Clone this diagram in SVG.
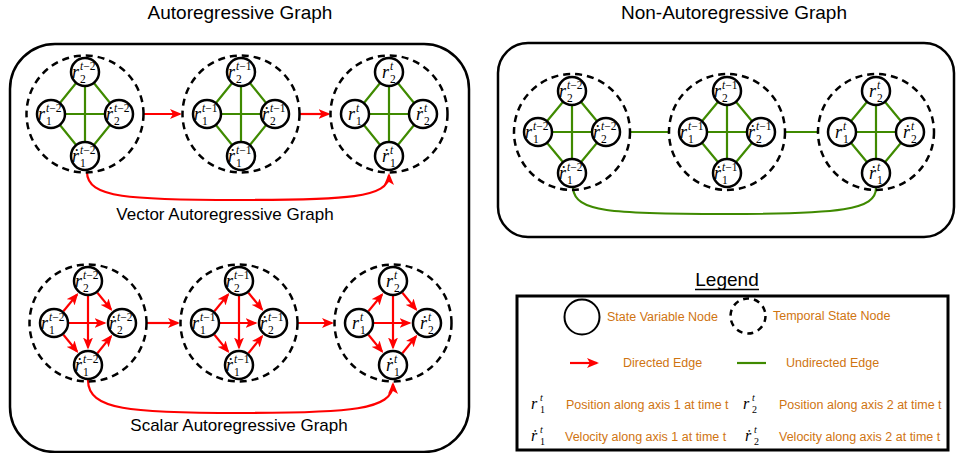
<svg xmlns="http://www.w3.org/2000/svg" width="956" height="453" viewBox="0 0 956 453">
<style>
.box{fill:none;stroke:#000;stroke-width:2.5}
.node{fill:#fff;stroke:#000;stroke-width:2.5}
.temp{fill:none;stroke:#000;stroke-width:2.5;stroke-dasharray:7 5}
.ge{stroke:#3f8a00;stroke-width:2.2;fill:none}
.re{stroke:#f00;stroke-width:2.2;fill:none;marker-end:url(#ah)}
.m{font-family:"Liberation Serif","DejaVu Serif",serif;font-style:italic;font-size:18px;fill:#000}
.sp{font-size:11.5px}
.up{font-style:normal}
.lm{font-size:16px}
.ls{font-size:10px}
.title{font-family:"Liberation Sans",Arial,sans-serif;font-size:19px;fill:#000}
.cap{font-family:"Liberation Sans",Arial,sans-serif;font-size:17px;fill:#000}
.lg{font-family:"Liberation Sans",Arial,sans-serif;font-size:12.5px;fill:#cf7411}
</style>
<defs>
<marker id="ah" viewBox="0 0 12 10" refX="10" refY="5" markerWidth="12" markerHeight="10" markerUnits="userSpaceOnUse" orient="auto"><path d="M0,0 L12,5 L0,10 L3,5 z" fill="#f00"/></marker>
</defs>
<rect width="956" height="453" fill="#fff"/>

<text class="title" x="240" y="19" text-anchor="middle">Autoregressive Graph</text>
<text class="title" x="734" y="19" text-anchor="middle">Non-Autoregressive Graph</text>
<rect class="box" x="10" y="44" width="459" height="408" rx="45"/>
<rect class="box" x="498" y="43" width="456" height="194" rx="30"/>
<text class="cap" x="225" y="220" text-anchor="middle">Vector Autoregressive Graph</text>
<text class="cap" x="239" y="431" text-anchor="middle">Scalar Autoregressive Graph</text>

<g id="connectors">
<g class="ge">
<path d="M85,72 L51,114 L85,156 L119,114 Z M85,72 V156 M51,114 H119"/>
<path d="M241,72 L207,114 L241,156 L275,114 Z M241,72 V156 M207,114 H275"/>
<path d="M389,72 L355,114 L389,156 L423,114 Z M389,72 V156 M355,114 H423"/>
</g>
<line class="re" x1="144" y1="114" x2="180" y2="114"/>
<line class="re" x1="300" y1="114" x2="328.5" y2="114"/>
<path class="re" d="M87,172 C87,198 130,200 238,200 C346,200 389,198 389,175"/>
<line class="re" x1="63.4" y1="311.3" x2="77" y2="294.6"/>
<line class="re" x1="69" y1="323" x2="104.5" y2="323"/>
<line class="re" x1="63.4" y1="334.7" x2="77" y2="351.4"/>
<line class="re" x1="97.4" y1="292.7" x2="111" y2="309.4"/>
<line class="re" x1="88" y1="296" x2="88" y2="347.5"/>
<line class="re" x1="97.4" y1="353.3" x2="111" y2="336.4"/>
<line class="re" x1="214.4" y1="311.3" x2="228" y2="294.6"/>
<line class="re" x1="220" y1="323" x2="255.5" y2="323"/>
<line class="re" x1="214.4" y1="334.7" x2="228" y2="351.4"/>
<line class="re" x1="248.4" y1="292.7" x2="262" y2="309.4"/>
<line class="re" x1="239" y1="296" x2="239" y2="347.5"/>
<line class="re" x1="248.4" y1="353.3" x2="262" y2="336.4"/>
<line class="re" x1="368.4" y1="311.3" x2="382" y2="294.6"/>
<line class="re" x1="374" y1="323" x2="409.5" y2="323"/>
<line class="re" x1="368.4" y1="334.7" x2="382" y2="351.4"/>
<line class="re" x1="402.4" y1="292.7" x2="416" y2="309.4"/>
<line class="re" x1="393" y1="296" x2="393" y2="347.5"/>
<line class="re" x1="402.4" y1="353.3" x2="416" y2="336.4"/>
<line class="re" x1="147" y1="323" x2="178" y2="323"/>
<line class="re" x1="298" y1="323" x2="332" y2="323"/>
<path class="re" d="M88,380 C88,410 130,413 240,413 C350,413 393,410 393,384"/>
<g class="ge">
<path d="M572,91 L538,132 L572,173 L606,132 Z M572,91 V173 M538,132 H606"/>
<path d="M727,91 L693,132 L727,173 L761,132 Z M727,91 V173 M693,132 H761"/>
<path d="M876,91 L842,132 L876,173 L910,132 Z M876,91 V173 M842,132 H910"/>
<path d="M630.5,132 H668.5 M785.5,132 H817.5"/>
<path d="M573,188 C575,212 610,214 725,214 C840,214 876,210 876,188"/>
</g>
</g>

<g id="v1"><circle class="temp" cx="85" cy="114" r="58.5"/></g>
<g id="v2"><circle class="temp" cx="241" cy="114" r="58.5"/></g>
<g id="v3"><circle class="temp" cx="389" cy="114" r="58.5"/></g>
<g id="s1"><circle class="temp" cx="88" cy="323" r="58.5"/></g>
<g id="s2"><circle class="temp" cx="239" cy="323" r="58.5"/></g>
<g id="s3"><circle class="temp" cx="393" cy="323" r="58.5"/></g>
<g id="n1"><circle class="temp" cx="572" cy="132" r="58"/></g>
<g id="n2"><circle class="temp" cx="727" cy="132" r="58"/></g>
<g id="n3"><circle class="temp" cx="876" cy="132" r="58"/></g>

<g id="v1-r2"><circle class="node" cx="85" cy="72" r="14"/><text class="m" x="72" y="78">r<tspan class="sp" x="80" y="70">t<tspan class="up">−2</tspan></tspan><tspan class="sp up" x="80" y="82.5">2</tspan></text></g>
<g id="v1-r1"><circle class="node" cx="51" cy="114" r="14"/><text class="m" x="38" y="120">r<tspan class="sp" x="46" y="112">t<tspan class="up">−2</tspan></tspan><tspan class="sp up" x="46" y="124.5">1</tspan></text></g>
<g id="v1-v2"><circle class="node" cx="119" cy="114" r="14"/><text class="m" x="106" y="120">ṙ<tspan class="sp" x="114" y="112">t<tspan class="up">−2</tspan></tspan><tspan class="sp up" x="114" y="124.5">2</tspan></text></g>
<g id="v1-v1"><circle class="node" cx="85" cy="156" r="14"/><text class="m" x="72" y="162">ṙ<tspan class="sp" x="80" y="154">t<tspan class="up">−2</tspan></tspan><tspan class="sp up" x="80" y="166.5">1</tspan></text></g>
<g id="v2-r2"><circle class="node" cx="241" cy="72" r="14"/><text class="m" x="228" y="78">r<tspan class="sp" x="236" y="70">t<tspan class="up">−1</tspan></tspan><tspan class="sp up" x="236" y="82.5">2</tspan></text></g>
<g id="v2-r1"><circle class="node" cx="207" cy="114" r="14"/><text class="m" x="194" y="120">r<tspan class="sp" x="202" y="112">t<tspan class="up">−1</tspan></tspan><tspan class="sp up" x="202" y="124.5">1</tspan></text></g>
<g id="v2-v2"><circle class="node" cx="275" cy="114" r="14"/><text class="m" x="262" y="120">ṙ<tspan class="sp" x="270" y="112">t<tspan class="up">−1</tspan></tspan><tspan class="sp up" x="270" y="124.5">2</tspan></text></g>
<g id="v2-v1"><circle class="node" cx="241" cy="156" r="14"/><text class="m" x="228" y="162">ṙ<tspan class="sp" x="236" y="154">t<tspan class="up">−1</tspan></tspan><tspan class="sp up" x="236" y="166.5">1</tspan></text></g>
<g id="v3-r2"><circle class="node" cx="389" cy="72" r="14"/><text class="m" x="382" y="78">r<tspan class="sp" x="390" y="70">t</tspan><tspan class="sp up" x="390" y="82.5">2</tspan></text></g>
<g id="v3-r1"><circle class="node" cx="355" cy="114" r="14"/><text class="m" x="348" y="120">r<tspan class="sp" x="356" y="112">t</tspan><tspan class="sp up" x="356" y="124.5">1</tspan></text></g>
<g id="v3-v2"><circle class="node" cx="423" cy="114" r="14"/><text class="m" x="416" y="120">ṙ<tspan class="sp" x="424" y="112">t</tspan><tspan class="sp up" x="424" y="124.5">2</tspan></text></g>
<g id="v3-v1"><circle class="node" cx="389" cy="156" r="14"/><text class="m" x="382" y="162">ṙ<tspan class="sp" x="390" y="154">t</tspan><tspan class="sp up" x="390" y="166.5">1</tspan></text></g>

<g id="s1-r2"><circle class="node" cx="88" cy="281" r="14"/><text class="m" x="75" y="287">r<tspan class="sp" x="83" y="279">t<tspan class="up">−2</tspan></tspan><tspan class="sp up" x="83" y="291.5">2</tspan></text></g>
<g id="s1-r1"><circle class="node" cx="54" cy="323" r="14"/><text class="m" x="41" y="329">r<tspan class="sp" x="49" y="321">t<tspan class="up">−2</tspan></tspan><tspan class="sp up" x="49" y="333.5">1</tspan></text></g>
<g id="s1-v2"><circle class="node" cx="122" cy="323" r="14"/><text class="m" x="109" y="329">ṙ<tspan class="sp" x="117" y="321">t<tspan class="up">−2</tspan></tspan><tspan class="sp up" x="117" y="333.5">2</tspan></text></g>
<g id="s1-v1"><circle class="node" cx="88" cy="365" r="14"/><text class="m" x="75" y="371">ṙ<tspan class="sp" x="83" y="363">t<tspan class="up">−2</tspan></tspan><tspan class="sp up" x="83" y="375.5">1</tspan></text></g>
<g id="s2-r2"><circle class="node" cx="239" cy="281" r="14"/><text class="m" x="226" y="287">r<tspan class="sp" x="234" y="279">t<tspan class="up">−1</tspan></tspan><tspan class="sp up" x="234" y="291.5">2</tspan></text></g>
<g id="s2-r1"><circle class="node" cx="205" cy="323" r="14"/><text class="m" x="192" y="329">r<tspan class="sp" x="200" y="321">t<tspan class="up">−1</tspan></tspan><tspan class="sp up" x="200" y="333.5">1</tspan></text></g>
<g id="s2-v2"><circle class="node" cx="273" cy="323" r="14"/><text class="m" x="260" y="329">ṙ<tspan class="sp" x="268" y="321">t<tspan class="up">−1</tspan></tspan><tspan class="sp up" x="268" y="333.5">2</tspan></text></g>
<g id="s2-v1"><circle class="node" cx="239" cy="365" r="14"/><text class="m" x="226" y="371">ṙ<tspan class="sp" x="234" y="363">t<tspan class="up">−1</tspan></tspan><tspan class="sp up" x="234" y="375.5">1</tspan></text></g>
<g id="s3-r2"><circle class="node" cx="393" cy="281" r="14"/><text class="m" x="386" y="287">r<tspan class="sp" x="394" y="279">t</tspan><tspan class="sp up" x="394" y="291.5">2</tspan></text></g>
<g id="s3-r1"><circle class="node" cx="359" cy="323" r="14"/><text class="m" x="352" y="329">r<tspan class="sp" x="360" y="321">t</tspan><tspan class="sp up" x="360" y="333.5">1</tspan></text></g>
<g id="s3-v2"><circle class="node" cx="427" cy="323" r="14"/><text class="m" x="420" y="329">ṙ<tspan class="sp" x="428" y="321">t</tspan><tspan class="sp up" x="428" y="333.5">2</tspan></text></g>
<g id="s3-v1"><circle class="node" cx="393" cy="365" r="14"/><text class="m" x="386" y="371">ṙ<tspan class="sp" x="394" y="363">t</tspan><tspan class="sp up" x="394" y="375.5">1</tspan></text></g>

<g id="n1-r2"><circle class="node" cx="572" cy="91" r="14"/><text class="m" x="559" y="97">r<tspan class="sp" x="567" y="89">t<tspan class="up">−2</tspan></tspan><tspan class="sp up" x="567" y="101.5">2</tspan></text></g>
<g id="n1-r1"><circle class="node" cx="538" cy="132" r="14"/><text class="m" x="525" y="138">r<tspan class="sp" x="533" y="130">t<tspan class="up">−2</tspan></tspan><tspan class="sp up" x="533" y="142.5">1</tspan></text></g>
<g id="n1-v2"><circle class="node" cx="606" cy="132" r="14"/><text class="m" x="593" y="138">ṙ<tspan class="sp" x="601" y="130">t<tspan class="up">−2</tspan></tspan><tspan class="sp up" x="601" y="142.5">2</tspan></text></g>
<g id="n1-v1"><circle class="node" cx="572" cy="173" r="14"/><text class="m" x="559" y="179">ṙ<tspan class="sp" x="567" y="171">t<tspan class="up">−2</tspan></tspan><tspan class="sp up" x="567" y="183.5">1</tspan></text></g>
<g id="n2-r2"><circle class="node" cx="727" cy="91" r="14"/><text class="m" x="714" y="97">r<tspan class="sp" x="722" y="89">t<tspan class="up">−1</tspan></tspan><tspan class="sp up" x="722" y="101.5">2</tspan></text></g>
<g id="n2-r1"><circle class="node" cx="693" cy="132" r="14"/><text class="m" x="680" y="138">r<tspan class="sp" x="688" y="130">t<tspan class="up">−1</tspan></tspan><tspan class="sp up" x="688" y="142.5">1</tspan></text></g>
<g id="n2-v2"><circle class="node" cx="761" cy="132" r="14"/><text class="m" x="748" y="138">ṙ<tspan class="sp" x="756" y="130">t<tspan class="up">−1</tspan></tspan><tspan class="sp up" x="756" y="142.5">2</tspan></text></g>
<g id="n2-v1"><circle class="node" cx="727" cy="173" r="14"/><text class="m" x="714" y="179">ṙ<tspan class="sp" x="722" y="171">t<tspan class="up">−1</tspan></tspan><tspan class="sp up" x="722" y="183.5">1</tspan></text></g>
<g id="n3-r2"><circle class="node" cx="876" cy="91" r="14"/><text class="m" x="869" y="97">r<tspan class="sp" x="877" y="89">t</tspan><tspan class="sp up" x="877" y="101.5">2</tspan></text></g>
<g id="n3-r1"><circle class="node" cx="842" cy="132" r="14"/><text class="m" x="835" y="138">r<tspan class="sp" x="843" y="130">t</tspan><tspan class="sp up" x="843" y="142.5">1</tspan></text></g>
<g id="n3-v2"><circle class="node" cx="910" cy="132" r="14"/><text class="m" x="903" y="138">ṙ<tspan class="sp" x="911" y="130">t</tspan><tspan class="sp up" x="911" y="142.5">2</tspan></text></g>
<g id="n3-v1"><circle class="node" cx="876" cy="173" r="14"/><text class="m" x="869" y="179">ṙ<tspan class="sp" x="877" y="171">t</tspan><tspan class="sp up" x="877" y="183.5">1</tspan></text></g>

<g id="legend">
<text class="title" x="727" y="286" text-anchor="middle">Legend</text>
<line x1="695" y1="289.5" x2="759" y2="289.5" stroke="#000" stroke-width="1.5"/>
<rect x="517" y="296" width="431" height="154" fill="none" stroke="#000" stroke-width="3"/>
<circle cx="582" cy="317" r="17.5" fill="none" stroke="#000" stroke-width="2"/>
<text class="lg" x="607" y="321">State Variable Node</text>
<circle cx="748" cy="316" r="17.5" fill="none" stroke="#000" stroke-width="2.5" stroke-dasharray="6 5"/>
<text class="lg" x="773" y="320">Temporal State Node</text>
<line class="re" x1="570" y1="363" x2="597" y2="363"/>
<text class="lg" x="623" y="367">Directed Edge</text>
<line class="ge" x1="737" y1="363" x2="766" y2="363"/>
<text class="lg" x="786" y="367">Undirected Edge</text>
<text class="m lm" x="531" y="409">r<tspan class="ls" x="540" y="400.5">t</tspan><tspan class="ls up" x="540" y="413">1</tspan></text>
<text class="lg" x="566" y="409">Position along axis 1 at time t</text>
<text class="m lm" x="743" y="409">r<tspan class="ls" x="752" y="400.5">t</tspan><tspan class="ls up" x="752" y="413">2</tspan></text>
<text class="lg" x="779" y="409">Position along axis 2 at time t</text>
<text class="m lm" x="531" y="441">ṙ<tspan class="ls" x="540" y="432.5">t</tspan><tspan class="ls up" x="540" y="445">1</tspan></text>
<text class="lg" x="565" y="441">Velocity along axis 1 at time t</text>
<text class="m lm" x="745" y="441">ṙ<tspan class="ls" x="754" y="432.5">t</tspan><tspan class="ls up" x="754" y="445">2</tspan></text>
<text class="lg" x="779" y="441">Velocity along axis 2 at time t</text>
</g>
</svg>
